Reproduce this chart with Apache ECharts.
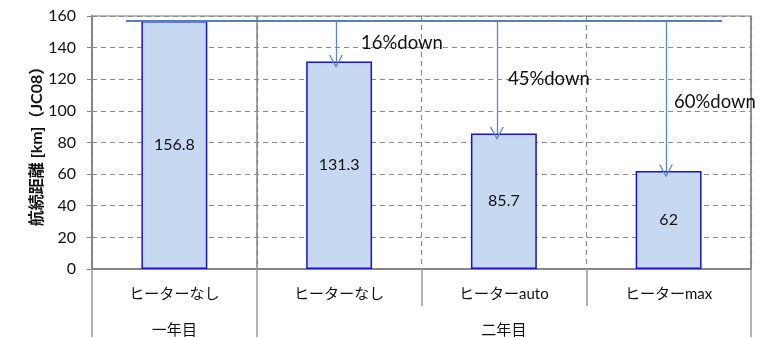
<!DOCTYPE html>
<html><head><meta charset="utf-8">
<script src="https://cdn.jsdelivr.net/npm/echarts@6/dist/echarts.min.js"></script>
<style>html,body{margin:0;padding:0;background:#fff}#c{width:760px;height:338px}</style>
</head><body><div id="c"></div>
<script>
const categories = ['ヒーターなし', 'ヒーターなし', 'ヒーターauto', 'ヒーターmax'];
const groupLabels = ['一年目', '', '二年目', ''];
const values = [156.8, 131.3, 85.7, 62];
const downLabels = ['', '16%down', '45%down', '60%down'];
const yMin = 0, yMax = 160, yStep = 20;
const yName = '航続距離 [km]（JC08）';

const FONT = "Lato, 'Noto Sans CJK JP', sans-serif";
const base = values[0];
// arrow x positions on a hidden 0..4 value axis (category i spans i..i+1)
const arrowX = [null, 1.481, 2.458, 3.484];
const labelOffsets = [null, [20, 2], [6, 2], [3, 6]];

const lineData = [[{coord: [0.206, base], symbol: 'none'}, {coord: [3.824, base], symbol: 'none',
  lineStyle: {color: '#4F81BD', width: 2}}]];
const pointData = [];
for (let i = 1; i < values.length; i++) {
  lineData.push([{coord: [arrowX[i], base], symbol: 'none'}, {coord: [arrowX[i], values[i]]}]);
  pointData.push({name: downLabels[i], coord: [arrowX[i], (base + values[i]) / 2],
    label: {offset: labelOffsets[i]}});
}

const chart = echarts.init(document.getElementById('c'), null, {renderer: 'canvas'});
chart.setOption({
  animation: false,
  textStyle: {fontFamily: FONT},
  grid: {left: 92, right: 9, top: 16, bottom: 68, show: true, borderColor: '#a6a6a6', borderWidth: 1.5},
  xAxis: [
    {type: 'category', data: categories, position: 'bottom',
     axisLine: {show: true, lineStyle: {color: '#868686', width: 2}},
     axisTick: {show: true, length: 37, interval: 0, lineStyle: {color: '#9a9a9a', width: 1.5}},
     axisLabel: {interval: 0, margin: 18, fontSize: 15, color: '#111', fontFamily: FONT},
     splitLine: {show: true, interval: 0, lineStyle: {color: '#8c8c8c', type: [5, 4], width: 1.2}}},
    {type: 'category', data: groupLabels, position: 'bottom',
     axisLine: {show: false},
     axisTick: {show: true, length: 68, interval: (i) => i === 0 || i === 1, lineStyle: {color: '#9a9a9a', width: 1.5}},
     axisLabel: {interval: 0, margin: 54, fontSize: 15, color: '#111', fontFamily: FONT},
     splitLine: {show: true, interval: (i) => i === 0 || i === 1, lineStyle: {color: '#868686', type: 'solid', width: 1.5}}},
    {type: 'value', min: 0, max: 4, show: false, position: 'top', splitLine: {show: false}}
  ],
  yAxis: {
    type: 'value', min: yMin, max: yMax, interval: yStep,
    name: yName, nameLocation: 'middle', nameGap: 47, nameRotate: 90, nameMoveOverlap: false,
    nameTextStyle: {fontSize: 16, fontWeight: 'bold', color: '#111', fontFamily: FONT},
    axisLine: {show: true, lineStyle: {color: '#868686', width: 2}},
    axisTick: {show: true, length: 5, lineStyle: {color: '#868686'}},
    axisLabel: {fontSize: 16, color: '#111', margin: 16, fontFamily: FONT},
    splitLine: {show: true, lineStyle: {color: '#8c8c8c', type: [5, 4], width: 1.2}}
  },
  series: [
    {type: 'bar', xAxisIndex: 0, data: values, barWidth: '40%', z: 3,
     itemStyle: {color: '#C6D9F1', borderColor: '#1414CC', borderWidth: 1.5},
     label: {show: true, position: 'inside', fontSize: 16, color: '#111', fontFamily: FONT}},
    {type: 'line', xAxisIndex: 2, yAxisIndex: 0, data: [], z: 5,
     markLine: {silent: true, animation: false, symbol: ['none', 'path://M5,0 L10,10 L9,10 L5,2.1 L1,10 L0,10 Z'],
       symbolSize: [14, 13], symbolOffset: [0, 0],
       lineStyle: {color: '#5B87C5', width: 1.3, type: 'solid'}, label: {show: false},
       data: lineData},
     markPoint: {silent: true, animation: false, symbol: 'circle', symbolSize: 0,
       label: {show: true, position: 'right', formatter: (p) => p.name, fontSize: 18.5, color: '#111', fontFamily: FONT},
       data: pointData}}
  ]
});
</script></body></html>
